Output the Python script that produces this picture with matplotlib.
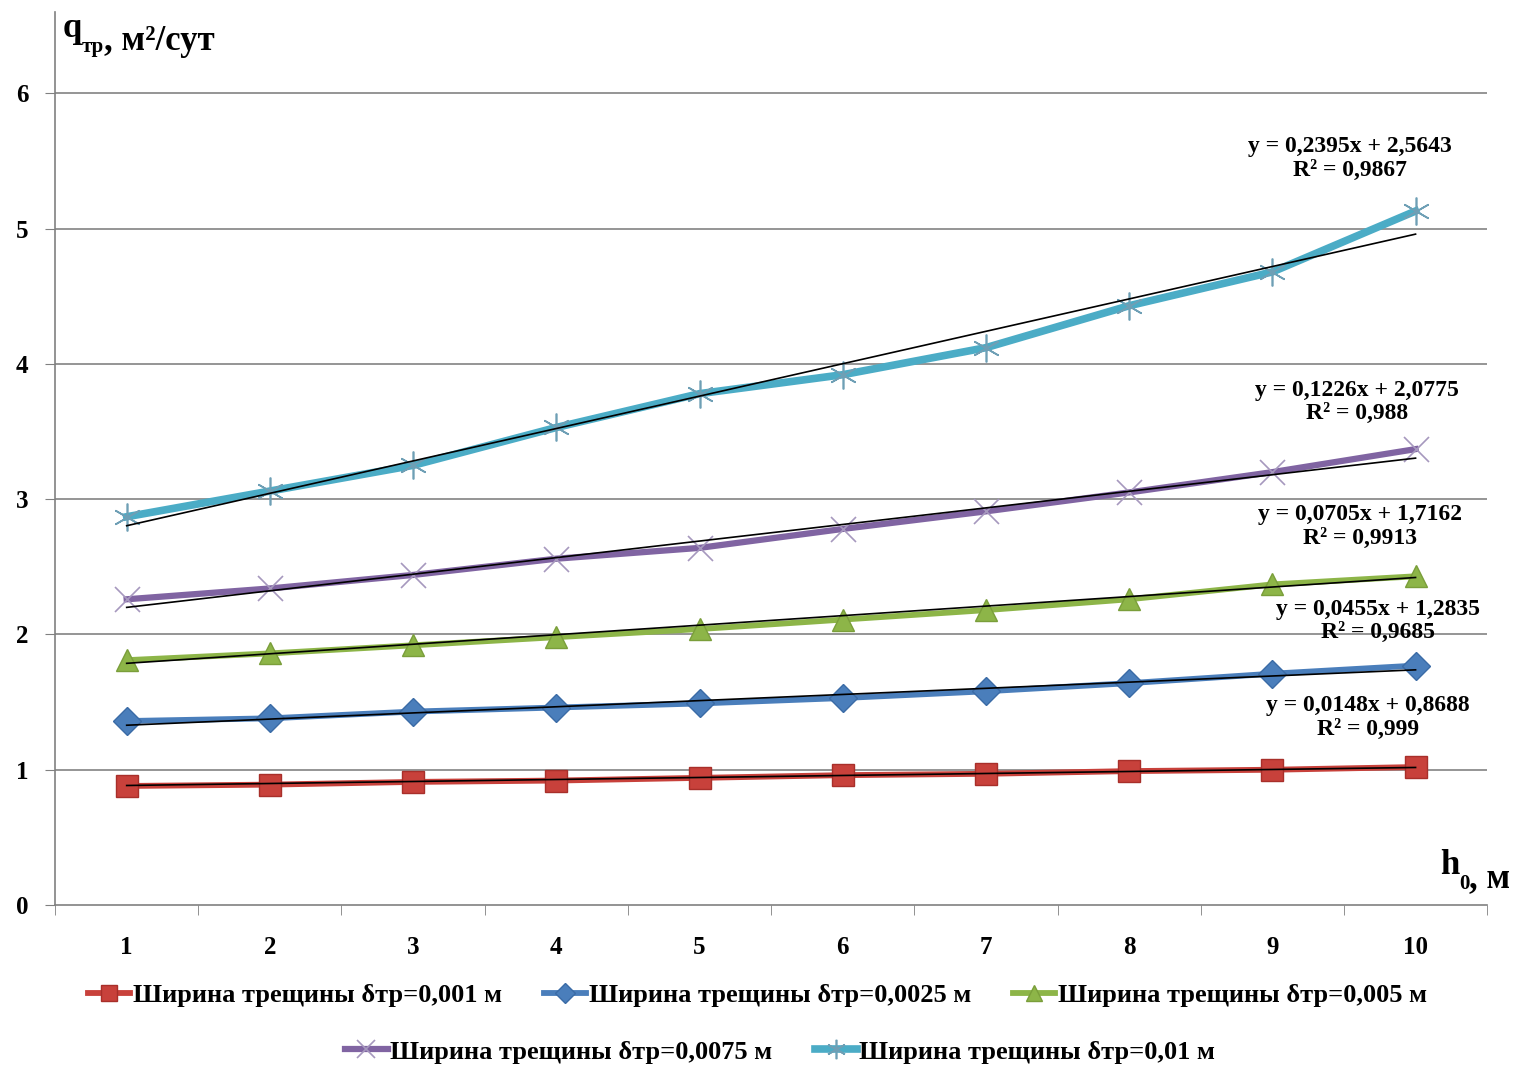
import numpy as np
import matplotlib
matplotlib.use("Agg")
import matplotlib.pyplot as plt

plt.rcParams['font.family'] = ['Liberation Serif', 'DejaVu Serif']
plt.rcParams['font.weight'] = 'bold'

# данные
h0 = [1, 2, 3, 4, 5, 6, 7, 8, 9, 10]
q_0001 = [0.88, 0.89, 0.91, 0.92, 0.94, 0.96, 0.97, 0.99, 1.00, 1.02]
q_00025 = [1.36, 1.38, 1.43, 1.46, 1.49, 1.53, 1.58, 1.64, 1.71, 1.77]
q_0005 = [1.81, 1.86, 1.92, 1.98, 2.04, 2.11, 2.18, 2.26, 2.37, 2.43]
q_00075 = [2.26, 2.34, 2.44, 2.56, 2.64, 2.78, 2.91, 3.05, 3.20, 3.37]
q_001 = [2.87, 3.06, 3.25, 3.53, 3.78, 3.92, 4.12, 4.43, 4.68, 5.13]

labels = ["Ширина трещины δтр=0,001 м", "Ширина трещины δтр=0,0025 м",
          "Ширина трещины δтр=0,005 м", "Ширина трещины δтр=0,0075 м",
          "Ширина трещины δтр=0,01 м"]
slopes = [0.0148, 0.0455, 0.0705, 0.1226, 0.2395]
intercepts = [0.8688, 1.2835, 1.7162, 2.0775, 2.5643]
r2 = ["0,999", "0,9685", "0,9913", "0,988", "0,9867"]
eq_text = ["y = 0,0148x + 0,8688", "y = 0,0455x + 1,2835", "y = 0,0705x + 1,7162",
           "y = 0,1226x + 2,0775", "y = 0,2395x + 2,5643"]

series = [q_0001, q_00025, q_0005, q_00075, q_001]
colors = ['#C8413B', '#4A7EBB', '#8DB548', '#8064A2', '#4BACC6']
markers = ['s', 'D', '^', 'x', (6, 2, 0)]
msizes = [16, 14, 16, 18, 20]
lws = [4.2, 4.2, 4.2, 4.5, 5.5]
mecs = ['#A82F2A', '#3A6BA6', '#7A9E3A', '#A698BE', '#6E9FB5']
# позиции подписей уравнений
eq_pos = [(9.67, 1.385), (9.74, 2.10), (9.61, 2.80), (9.59, 3.72), (9.54, 5.52)]

fig = plt.figure(figsize=(15.3, 10.68), dpi=100)
ax = fig.add_axes([0.036, 0.1526, 0.936, 0.836])

handles = []
for i, y in enumerate(series):
    mew = 1.2 if markers[i] in ('x',) or isinstance(markers[i], tuple) else 1
    ln, = ax.plot(h0, y, color=colors[i], lw=lws[i], marker=markers[i],
                  markersize=msizes[i], markerfacecolor=colors[i],
                  markeredgecolor=mecs[i], markeredgewidth=mew, zorder=3)
    handles.append(ln)
    x = np.array([h0[0], h0[-1]])
    ax.plot(x, slopes[i] * x + intercepts[i], color='black', lw=1.2, zorder=4)
    ax.text(eq_pos[i][0], eq_pos[i][1], eq_text[i] + "\nR² = " + r2[i],
            ha='center', va='center', fontsize=17, fontweight='bold',
            linespacing=1.15, zorder=5)

ax.set_xlim(0.5, 10.5)
ax.set_ylim(0, 6.6)
ax.set_yticks(range(0, 7))
ax.set_xticks(h0)
ax.set_xticks(np.arange(0.5, 11, 1), minor=True)
ax.tick_params(axis='x', which='major', length=0, pad=22, labelsize=18)
ax.tick_params(axis='x', which='minor', length=7, direction='out', color='#808080')
ax.tick_params(axis='y', length=7, direction='out', color='#808080', labelsize=18, pad=12)
for t in ax.get_xticklabels() + ax.get_yticklabels():
    t.set_fontweight('bold')

for s in ['top', 'right']:
    ax.spines[s].set_visible(False)
ax.spines['left'].set_color('#808080')
ax.spines['bottom'].set_color('#808080')
ax.spines['left'].set_linewidth(1.2)
ax.spines['bottom'].set_linewidth(1.2)
for yv in range(1, 7):
    ax.axhline(yv, color='#8C8C8C', lw=1.3, zorder=1)

# подписи осей
t1 = fig.text(0.041, 0.965, "q", fontsize=25, fontweight='bold', va='baseline')
t2 = ax.annotate("тр", xy=(1, 0), xycoords=t1, xytext=(0, -5), textcoords='offset points',
                 fontsize=15, fontweight='bold', va='baseline', annotation_clip=False)
ax.annotate(", м²/сут", xy=(1, 0), xycoords=t2, xytext=(0, 5), textcoords='offset points',
            fontsize=25, fontweight='bold', va='baseline', annotation_clip=False)
h1 = fig.text(0.941, 0.182, "h", fontsize=25, fontweight='bold', va='baseline')
h2 = ax.annotate("0", xy=(1, 0), xycoords=h1, xytext=(0, -5), textcoords='offset points',
                 fontsize=15, fontweight='bold', va='baseline', annotation_clip=False)
ax.annotate(", м", xy=(1, 0), xycoords=h2, xytext=(0, 5), textcoords='offset points',
            fontsize=25, fontweight='bold', va='baseline', annotation_clip=False)

leg_kw = dict(frameon=False, prop={'weight': 'bold', 'size': 19}, handlelength=1.6,
              handletextpad=0.1, columnspacing=1.6, markerscale=0.7)
fig.legend(handles[:3], labels[:3], loc='center', bbox_to_anchor=(0.495, 0.068), ncol=3, **leg_kw)
fig.legend(handles[3:], labels[3:], loc='center', bbox_to_anchor=(0.51, 0.015), ncol=2, **leg_kw)

fig.savefig("out.png", dpi=100)
